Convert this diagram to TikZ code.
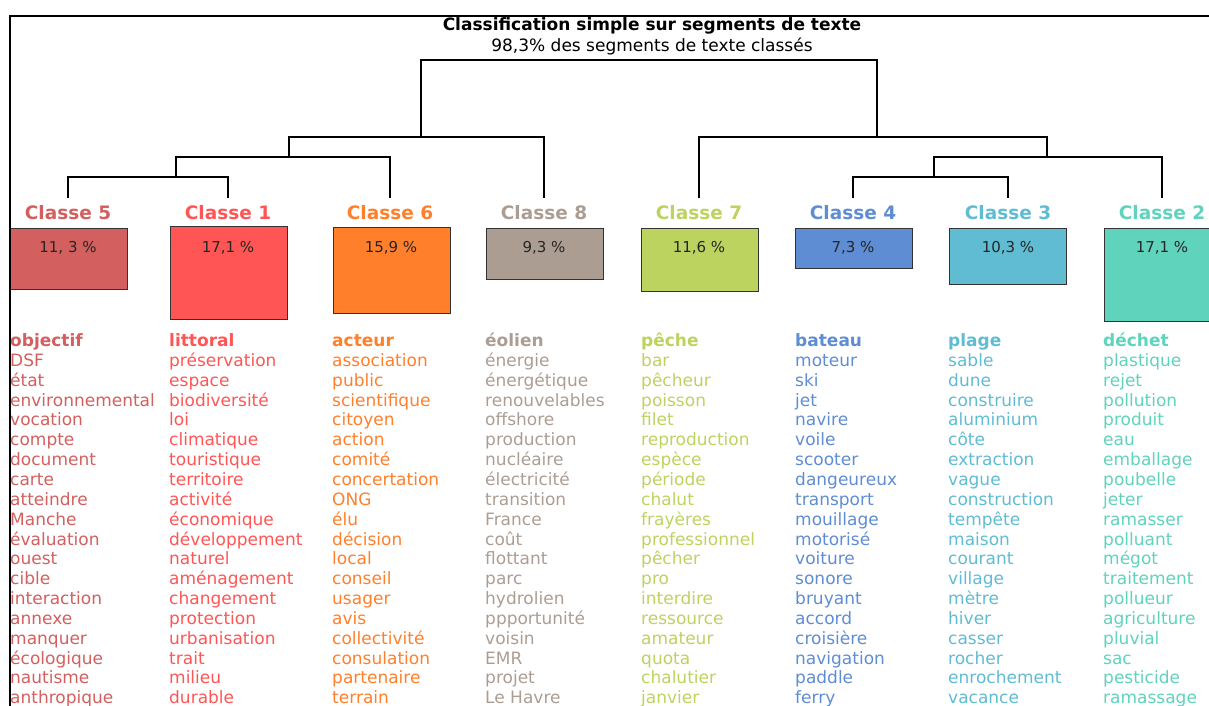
\documentclass[tikz,border=0pt]{standalone}
\usepackage{fontspec}
\setmainfont{DejaVu Sans}
\usetikzlibrary{positioning}
\tikzstyle{box}=[draw=black!80, line width=1.2, minimum width=117, inner sep=0, anchor=north west]
\tikzstyle{pct}=[font=\fontsize{15}{18}\selectfont, text=black!85, anchor=base, inner sep=0]
\tikzstyle{cls}=[font=\fontsize{18.5}{22}\selectfont\bfseries, anchor=base, inner sep=0]
\tikzstyle{word}=[font=\fontsize{17}{20}\selectfont, anchor=base west, inner sep=0]
\tikzstyle{head}=[word, font=\fontsize{17}{20}\selectfont\bfseries]
\tikzstyle{dendro}=[line width=2.5, line join=miter]
\tikzstyle{frame}=[line width=2]
\usepackage{xcolor}
\definecolor{mc5}{HTML}{D35F5F}
\definecolor{mc1}{HTML}{FF5555}
\definecolor{mc6}{HTML}{FF7F2A}
\definecolor{mc8}{HTML}{AC9D93}
\definecolor{mc7}{HTML}{BCD35F}
\definecolor{mc4}{HTML}{5F8DD3}
\definecolor{mc3}{HTML}{5FBCD3}
\definecolor{mc2}{HTML}{5FD3BC}

\begin{document}
\begin{tikzpicture}[x=1pt, y=-1pt]
    \useasboundingbox (0,0) rectangle (1209,705);
    \clip (0,0) rectangle (1209,705);

    \node[font=\fontsize{17}{20}\selectfont\bfseries, anchor=base] (title) at (652,30.5) {Classification simple sur segments de texte};
    \node[font=\fontsize{17}{20}\selectfont, anchor=base] (sub) at (652,51) {98,3\% des segments de texte classés};

    % leaves
    \coordinate (t5) at (68,198);
    \coordinate (t1) at (228,198);
    \coordinate (t6) at (390,198);
    \coordinate (t8) at (544,198);
    \coordinate (t7) at (699,198);
    \coordinate (t4) at (853,198);
    \coordinate (t3) at (1008,198);
    \coordinate (t2) at (1162,198);
    % joins
    \coordinate (j51) at (176,177);
    \coordinate (j516) at (289,157);
    \coordinate (j5168) at (421,137);
    \coordinate (top) at (877,60);
    \coordinate (jr) at (877,137);
    \coordinate (jr2) at (1047,137);
    \coordinate (j432) at (1047,157);
    \coordinate (j43) at (934,177);

    \draw[dendro] (t5) |- (j51) -| (t1);
    \draw[dendro] (j51) |- (j516) -| (t6);
    \draw[dendro] (j516) |- (j5168) -| (t8);
    \draw[dendro] (j5168) |- (top) -- (jr);
    \draw[dendro] (t7) |- (jr2) -- (j432);
    \draw[dendro] (j43) |- (j432) -| (t2);
    \draw[dendro] (t4) |- (j43) -| (t3);

    \node[cls, text=mc5] (k5) at (68,219) {Classe 5};
    \node[cls, text=mc1] (k1) at (228,219) {Classe 1};
    \node[cls, text=mc6] (k6) at (390,219) {Classe 6};
    \node[cls, text=mc8] (k8) at (544,219) {Classe 8};
    \node[cls, text=mc7] (k7) at (699,219) {Classe 7};
    \node[cls, text=mc4] (k4) at (853,219) {Classe 4};
    \node[cls, text=mc3] (k3) at (1008,219) {Classe 3};
    \node[cls, text=mc2] (k2) at (1162,219) {Classe 2};

    \node[box, fill=mc5, minimum height=61] (b5) at (10,228) {};
    \node[box, fill=mc1, minimum height=93] (b1) at (170,226) {};
    \node[box, fill=mc6, minimum height=86] (b6) at (333,227) {};
    \node[box, fill=mc8, minimum height=51] (b8) at (486,228) {};
    \node[box, fill=mc7, minimum height=63] (b7) at (641,228) {};
    \node[box, fill=mc4, minimum height=40] (b4) at (795,228) {};
    \node[box, fill=mc3, minimum height=56] (b3) at (949,228) {};
    \node[box, fill=mc2, minimum height=93] (b2) at (1104,228) {};

    \node[pct] (p5) at (68,252) {11, 3 \%};
    \node[pct] (p1) at (228,252) {17,1 \%};
    \node[pct] (p6) at (391,252) {15,9 \%};
    \node[pct] (p8) at (544,252) {9,3 \%};
    \node[pct] (p7) at (699,252) {11,6 \%};
    \node[pct] (p4) at (853,252) {7,3 \%};
    \node[pct] (p3) at (1008,252) {10,3 \%};
    \node[pct] (p2) at (1162,252) {17,1 \%};

    % word lists
    \node[head, text=mc5] (w5-0) at (10,346.5) {objectif};
    \foreach \w [count=\i] in {DSF, état, environnemental, vocation, compte, document, carte, atteindre, Manche, évaluation, ouest, cible, interaction, annexe, manquer, écologique, nautisme, anthropique}
        \node[word, text=mc5] (w5-\i) at (10,{346.5+19.85*\i}) {\w};

    \node[head, text=mc1] (w1-0) at (169,346.5) {littoral};
    \foreach \w [count=\i] in {préservation, espace, biodiversité, loi, climatique, touristique, territoire, activité, économique, développement, naturel, aménagement, changement, protection, urbanisation, trait, milieu, durable}
        \node[word, text=mc1] (w1-\i) at (169,{346.5+19.85*\i}) {\w};

    \node[head, text=mc6] (w6-0) at (332,346.5) {acteur};
    \foreach \w [count=\i] in {association, public, scientifique, citoyen, action, comité, concertation, ONG, élu, décision, local, conseil, usager, avis, collectivité, consulation, partenaire, terrain}
        \node[word, text=mc6] (w6-\i) at (332,{346.5+19.85*\i}) {\w};

    \node[head, text=mc8] (w8-0) at (485,346.5) {éolien};
    \foreach \w [count=\i] in {énergie, énergétique, renouvelables, offshore, production, nucléaire, électricité, transition, France, coût, flottant, parc, hydrolien, ppportunité, voisin, EMR, projet, Le Havre}
        \node[word, text=mc8] (w8-\i) at (485,{346.5+19.85*\i}) {\w};

    \node[head, text=mc7] (w7-0) at (641,346.5) {pêche};
    \foreach \w [count=\i] in {bar, pêcheur, poisson, filet, reproduction, espèce, période, chalut, frayères, professionnel, pêcher, pro, interdire, ressource, amateur, quota, chalutier, janvier}
        \node[word, text=mc7] (w7-\i) at (641,{346.5+19.85*\i}) {\w};

    \node[head, text=mc4] (w4-0) at (795,346.5) {bateau};
    \foreach \w [count=\i] in {moteur, ski, jet, navire, voile, scooter, dangeureux, transport, mouillage, motorisé, voiture, sonore, bruyant, accord, croisière, navigation, paddle, ferry}
        \node[word, text=mc4] (w4-\i) at (795,{346.5+19.85*\i}) {\w};

    \node[head, text=mc3] (w3-0) at (948,346.5) {plage};
    \foreach \w [count=\i] in {sable, dune, construire, aluminium, côte, extraction, vague, construction, tempête, maison, courant, village, mètre, hiver, casser, rocher, enrochement, vacance}
        \node[word, text=mc3] (w3-\i) at (948,{346.5+19.85*\i}) {\w};

    \node[head, text=mc2] (w2-0) at (1103,346.5) {déchet};
    \foreach \w [count=\i] in {plastique, rejet, pollution, produit, eau, emballage, poubelle, jeter, ramasser, polluant, mégot, traitement, pollueur, agriculture, pluvial, sac, pesticide, ramassage}
        \node[word, text=mc2] (w2-\i) at (1103,{346.5+19.85*\i}) {\w};

    \draw[frame] (1215,16) -- (10,16) -- (10,712);
\end{tikzpicture}
\end{document}
